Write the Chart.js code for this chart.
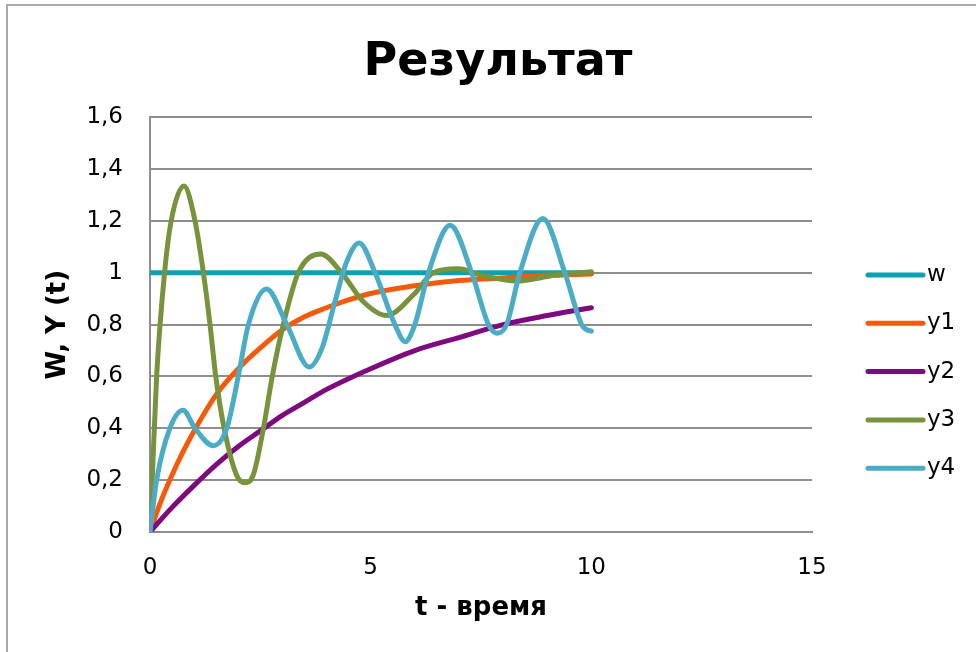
<!DOCTYPE html>
<html lang="ru">
<head>
<meta charset="utf-8">
<title>Результат</title>
<script src="https://cdn.jsdelivr.net/npm/chart.js@4.4.1/dist/chart.umd.min.js"></script>
<style>
    html, body {
        margin: 0;
        padding: 0;
        background: #ffffff;
        overflow: hidden;
    }
    .frame {
        position: absolute;
        left: 6px;
        top: 4px;
        width: 1000px;
        height: 700px;
        border-left: 2px solid #a9a9a9;
        border-top: 2px solid #a9a9a9;
    }
    #chart {
        position: absolute;
        left: 0;
        top: 0;
    }
</style>
</head>
<body>
<div class="frame"></div>
<canvas id="chart" width="976" height="652"></canvas>
<script>
// Series data (t - время, values W, Y(t))
const seriesNames = ['w', 'y1', 'y2', 'y3', 'y4'];

const tW = [0, 10];
const w = [1, 1];

const tY1 = [0, 0.25, 0.5, 0.75, 1, 1.5, 2, 2.5, 3, 3.5, 4, 4.5, 5, 6, 7, 8, 9, 10];
const y1 = [0, 0.12, 0.22, 0.31, 0.39, 0.53, 0.63, 0.71, 0.78, 0.83, 0.865, 0.895, 0.92, 0.95, 0.97, 0.98, 0.99, 0.995];

const tY2 = [0, 0.5, 1, 1.5, 2, 2.5, 3, 3.5, 4, 5, 6, 7, 8, 9, 10];
const y2 = [0, 0.095, 0.18, 0.26, 0.33, 0.39, 0.45, 0.5, 0.55, 0.63, 0.7, 0.75, 0.8, 0.835, 0.865];

const tY3 = [0, 0.05, 0.15, 0.33, 0.48, 0.77, 1.02, 1.21, 1.36, 1.49, 1.68, 1.96, 2.15, 2.34, 2.57, 2.77,
    3.02, 3.36, 3.87, 4.34, 4.83, 5.36, 5.97, 6.42, 6.99, 7.48, 8.31, 9.14, 10];
const y3 = [0, 0.2, 0.6, 1.0, 1.2, 1.335, 1.2, 1.0, 0.8, 0.6, 0.4, 0.22, 0.19, 0.22, 0.4, 0.6,
    0.8, 1.0, 1.072, 1.0, 0.889, 0.835, 0.915, 1.0, 1.015, 0.992, 0.968, 0.989, 1.004];

const tY4 = [0, 0.15, 0.45, 0.75, 1.02, 1.435, 1.74, 2.0, 2.23, 2.64, 3.1, 3.61, 3.9, 4.17, 4.45, 4.74,
    5.1, 5.55, 5.78, 6.0, 6.31, 6.8, 7.29, 7.67, 7.86, 8.08, 8.38, 8.9, 9.4, 9.78, 9.9, 10];
const y4 = [0, 0.2, 0.4, 0.47, 0.4, 0.333, 0.4, 0.6, 0.8, 0.937, 0.8, 0.636, 0.71, 0.875, 1.04, 1.115,
    1.0, 0.8, 0.734, 0.8, 1.0, 1.183, 1.0, 0.8, 0.767, 0.8, 1.0, 1.209, 1.0, 0.8, 0.78, 0.775];

// Axis ticks
const xTicks = [0, 5, 10, 15];
const yTickLabels = ['0', '0,2', '0,4', '0,6', '0,8', '1', '1,2', '1,4', '1,6'];

const colors = ['#0aa2b0', '#f55a0a', '#7f0a80', '#77933c', '#4bacc6'];

const FONT = 'DejaVu Sans';
Chart.defaults.font.family = FONT;
Chart.defaults.color = '#000000';

// Pair up t and value arrays into points
function toPoints(ts, vals) {
    return ts.map((t, i) => ({ x: t, y: vals[i] }));
}

const allSeries = [[tW, w], [tY1, y1], [tY2, y2], [tY3, y3], [tY4, y4]];

const datasets = allSeries.map(([ts, vals], i) => ({
    label: seriesNames[i],
    data: toPoints(ts, vals),
    borderColor: colors[i],
    backgroundColor: colors[i],
    borderWidth: 5,
    borderCapStyle: 'round',
    borderJoinStyle: 'round',
    pointRadius: 0,
    cubicInterpolationMode: 'monotone',
    fill: false,
    // later series drawn on top, like the original
    order: allSeries.length - 1 - i
}));

// Legend drawn by hand on the right side
const sideLegend = {
    id: 'sideLegend',
    afterDraw(chart) {
        const ctx = chart.ctx;
        const x0 = 868, x1 = 923, top = 275, step = 48.3;
        ctx.save();
        ctx.font = '23px "' + FONT + '"';
        ctx.textBaseline = 'middle';
        ctx.textAlign = 'left';
        chart.data.datasets.forEach((ds, i) => {
            const y = top + i * step;
            ctx.strokeStyle = ds.borderColor;
            ctx.lineWidth = 5;
            ctx.lineCap = 'round';
            ctx.beginPath();
            ctx.moveTo(x0, y);
            ctx.lineTo(x1, y);
            ctx.stroke();
            ctx.fillStyle = '#000000';
            ctx.fillText(ds.label, x1 + 4, y);
        });
        ctx.restore();
    }
};

const chart = new Chart(document.getElementById('chart'), {
    type: 'line',
    data: { datasets: datasets },
    plugins: [sideLegend],
    options: {
        responsive: false,
        animation: false,
        devicePixelRatio: 1,
        layout: {
            padding: { top: 0, left: 20, right: 0, bottom: 0 }
        },
        plugins: {
            legend: { display: false },
            tooltip: { enabled: false },
            title: {
                display: true,
                text: 'Результат',
                font: { size: 46, weight: 'bold', family: FONT },
                color: '#000000',
                padding: { top: 35, bottom: 27 }
            }
        },
        scales: {
            x: {
                type: 'linear',
                min: 0,
                max: 15,
                afterBuildTicks: axis => {
                    axis.ticks = xTicks.map(v => ({ value: v }));
                },
                afterFit: axis => { axis.height = 120; },
                grid: { display: false, drawTicks: false },
                border: { display: true, color: '#8e8e8e', width: 2 },
                ticks: {
                    padding: 22,
                    font: { size: 23 },
                    color: '#000000',
                    maxRotation: 0
                },
                title: {
                    display: true,
                    text: 't - время',
                    font: { size: 26, weight: 'bold' },
                    color: '#000000',
                    padding: { top: 0, bottom: 28 }
                }
            },
            y: {
                min: 0,
                max: 1.6,
                ticks: {
                    stepSize: 0.2,
                    padding: 27,
                    font: { size: 23 },
                    color: '#000000',
                    callback: (value, index) => yTickLabels[index]
                },
                afterFit: axis => { axis.width = 130; },
                grid: { color: '#8e8e8e', lineWidth: 2, drawTicks: false },
                border: { display: true, color: '#8e8e8e', width: 2 },
                title: {
                    display: true,
                    text: 'W, Y (t)',
                    font: { size: 26, weight: 'bold' },
                    color: '#000000',
                    padding: { top: 23, bottom: 0 }
                }
            },
            // empty right-hand axis that reserves room for the legend
            legendSpace: {
                position: 'right',
                display: true,
                afterFit: axis => { axis.width = 164; },
                grid: { display: false, drawTicks: false },
                border: { display: false },
                ticks: { display: false }
            }
        }
    }
});
</script>
</body>
</html>
